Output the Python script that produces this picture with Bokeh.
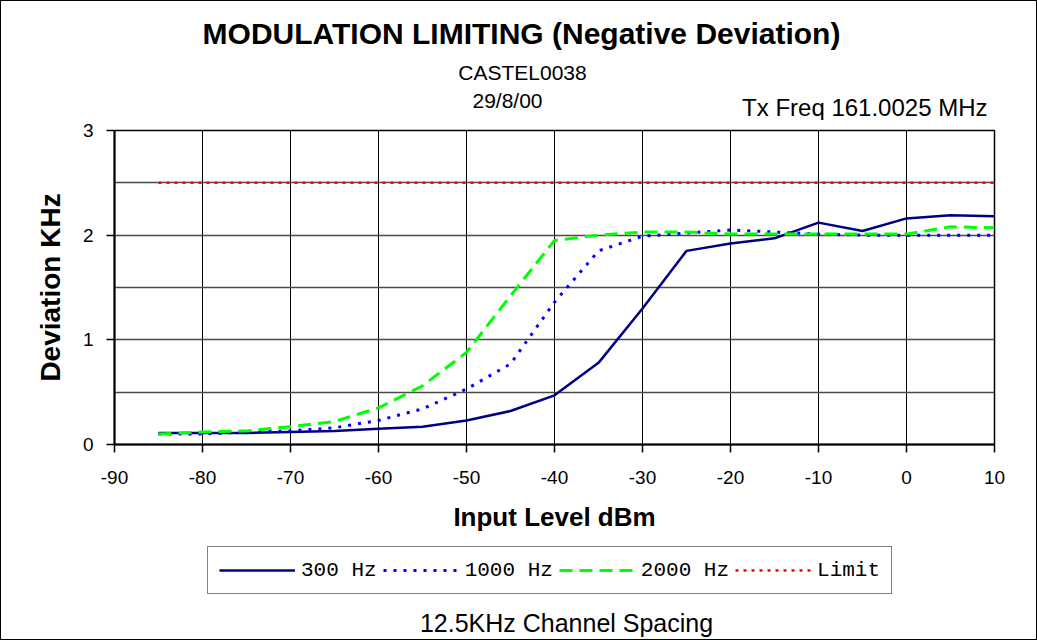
from bokeh.plotting import figure
from bokeh.layouts import column
from bokeh.models import (Range1d, FixedTicker, Legend, LegendItem, Label)
from bokeh.embed import file_html
from bokeh.resources import INLINE

# ---- data ----
input_level = [-85, -80, -75, -70, -65, -60, -55, -50, -45, -40,
               -35, -30, -25, -20, -15, -10, -5, 0, 5, 10]
dev_300 = [0.11, 0.11, 0.11, 0.12, 0.13, 0.15, 0.17, 0.23, 0.32, 0.47,
           0.78, 1.30, 1.85, 1.92, 1.97, 2.12, 2.04, 2.16, 2.19, 2.18]
dev_1000 = [0.10, 0.10, 0.12, 0.13, 0.16, 0.23, 0.34, 0.53, 0.77, 1.36,
            1.85, 1.99, 2.02, 2.05, 2.03, 2.01, 2.00, 2.00, 2.00, 2.00]
dev_2000 = [0.10, 0.12, 0.13, 0.17, 0.22, 0.35, 0.56, 0.88, 1.42, 1.95,
            2.00, 2.03, 2.03, 2.01, 2.01, 2.01, 2.01, 2.01, 2.08, 2.07]
limit = [2.5] * len(input_level)

x_ticks = [-90, -80, -70, -60, -50, -40, -30, -20, -10, 0, 10]
y_ticks = [0, 1, 2, 3]
y_grid = [0.5, 1, 1.5, 2, 2.5, 3]
series_names = ["300 Hz", "1000 Hz", "2000 Hz", "Limit"]

title_text = "MODULATION LIMITING (Negative Deviation)"
sub1 = "CASTEL0038"
sub2 = "29/8/00"
freq_text = "Tx Freq 161.0025 MHz"
footer_text = "12.5KHz Channel Spacing"

FONT = "Liberation Sans"
W = 1035
HEAD_H, MAIN_H, FOOT_H = 119, 424, 95
MAIN_TOP, MAIN_BOTTOM = 10, 100
LEFT, RIGHT = 113, 42
FX0 = 114   # page x of the (column-aligned) plot frames' left edge

styles_line = {
    "300 Hz": dict(line_color="#000080", line_width=2.5),
    "1000 Hz": dict(line_color="#0000ff", line_width=3, line_dash="3 7"),
    "2000 Hz": dict(line_color="#00ff00", line_width=3, line_dash="13 7"),
    "Limit": dict(line_color="#ff0000", line_width=2.5, line_dash="3 5"),
}


def blank(h):
    f = figure(width=W, height=h, output_backend="svg", toolbar_location=None,
               x_range=Range1d(0, 1), y_range=Range1d(0, 1),
               x_axis_type=None, y_axis_type=None,
               min_border=0, min_border_left=0, min_border_right=0,
               min_border_top=0, min_border_bottom=0)
    f.outline_line_color = None
    f.grid.visible = False
    f.background_fill_color = "white"
    f.border_fill_color = "white"
    return f


def lab(f, t, x, y_from_top, size, style="normal", align="center"):
    # screen units are relative to the frame's bottom-left corner
    f.add_layout(Label(x=x - FX0, y=f.height - y_from_top, x_units="screen",
                       y_units="screen", text=t, text_font=FONT,
                       text_font_size=size, text_font_style=style,
                       text_align=align, text_baseline="middle",
                       text_color="black"))


# ---- header ----
head = blank(HEAD_H)
lab(head, title_text, 521, 32, "30px", "bold")
lab(head, sub1, 522, 71, "21px")
lab(head, sub2, 507, 99, "21px")
lab(head, freq_text, 987, 106, "24px", align="right")

# ---- main chart ----
p = figure(width=W, height=MAIN_H, output_backend="svg", toolbar_location=None,
           x_range=Range1d(-90, 10), y_range=Range1d(0, 3),
           min_border_left=LEFT, min_border_right=RIGHT,
           min_border_top=MAIN_TOP, min_border_bottom=MAIN_BOTTOM)
p.background_fill_color = "white"
p.border_fill_color = "white"
p.outline_line_color = "black"
p.outline_line_width = 1.5

p.xaxis.ticker = FixedTicker(ticks=x_ticks)
p.yaxis.ticker = FixedTicker(ticks=y_ticks)
p.xaxis.major_label_overrides = {t: str(t) for t in x_ticks}
p.yaxis.major_label_overrides = {t: str(t) for t in y_ticks}
for ax in (p.xaxis[0], p.yaxis[0]):
    ax.axis_line_color = "black"
    ax.axis_line_width = 2
    ax.major_tick_line_color = "black"
    ax.major_tick_line_width = 1.5
    ax.major_tick_out = 8
    ax.major_tick_in = 0
    ax.minor_tick_line_color = None
    ax.major_label_text_font = FONT
    ax.major_label_text_font_size = "19px"
    ax.major_label_text_color = "black"
    ax.axis_label_text_font = FONT
    ax.axis_label_text_font_style = "bold"
    ax.axis_label_text_color = "black"

p.xaxis.axis_label = "Input Level dBm"
p.xaxis.axis_label_text_font_size = "26px"
p.xaxis.major_label_standoff = 18
p.xaxis.axis_label_standoff = 15
p.yaxis.axis_label = "Deviation KHz"
p.yaxis.axis_label_text_font_size = "28px"
p.yaxis.major_label_standoff = 13
p.yaxis.axis_label_standoff = 14

p.xgrid.ticker = FixedTicker(ticks=x_ticks)
p.xgrid.grid_line_color = "black"
p.xgrid.grid_line_width = 1
p.ygrid.ticker = FixedTicker(ticks=y_grid)
p.ygrid.grid_line_color = "#4a4a4a"
p.ygrid.grid_line_width = 1.5

for name, ys in zip(series_names, [dev_300, dev_1000, dev_2000, limit]):
    p.line(input_level, ys, **styles_line[name])

# ---- footer with legend ----
foot = blank(FOOT_H)
items = []
for name in series_names:
    # legend sample only: kept outside the footer's visible range
    r = foot.line(x=[0, 1], y=[-5, -5], **styles_line[name])
    items.append(LegendItem(label=name, renderers=[r]))
legend = Legend(items=items, orientation="horizontal", location=(207 - FX0, 45))
legend.glyph_width = 76
legend.glyph_height = 24
legend.label_standoff = 6
legend.spacing = 6
legend.padding = 11
legend.margin = 0
legend.border_line_color = "black"
legend.border_line_width = 1.5
legend.label_text_font = "Liberation Mono"
legend.label_text_font_size = "21px"
legend.label_text_color = "black"
legend.background_fill_alpha = 1
foot.add_layout(legend, "center")
lab(foot, footer_text, 566, 78, "25px")

page = column(head, p, foot, spacing=0,
              styles={"border": "1px solid black"})

open("out.html", "w").write(file_html(page, INLINE))
